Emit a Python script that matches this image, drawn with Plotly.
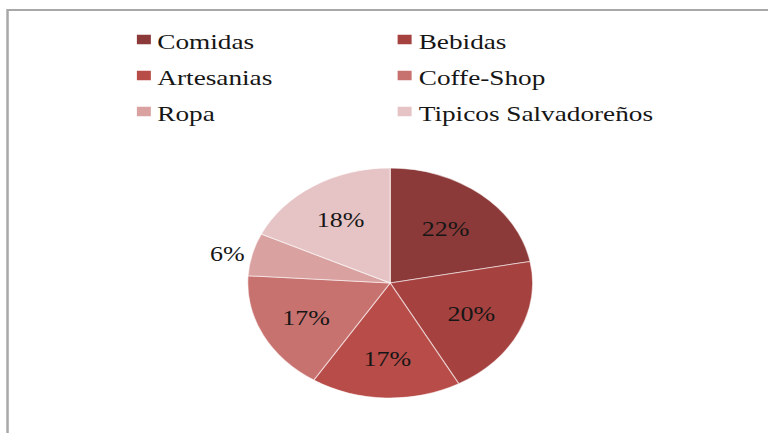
import plotly.graph_objects as go

categories = ["Comidas", "Bebidas", "Artesanias", "Coffe-Shop", "Ropa", "Tipicos Salvadoreños"]
values = [22, 20, 17, 17, 6, 18]
colors = ["#8c3a39", "#a5413f", "#b84c48", "#c87270", "#d9a1a0", "#e6c4c5"]
text_positions = ["inside", "inside", "inside", "inside", "outside", "inside"]

W, H = 620, 433
SX = 768 / W
FONT = "Liberation Serif"
TXT = "#161616"

fig = go.Figure(
    go.Pie(
        labels=categories,
        values=values,
        sort=False,
        direction="clockwise",
        rotation=0,
        marker=dict(colors=colors, line=dict(color="rgba(255,255,255,0.55)", width=1)),
        textinfo="percent",
        texttemplate="%{percent:.0%}",
        textposition=text_positions,
        insidetextorientation="horizontal",
        textfont=dict(family=FONT, size=21, color=TXT),
        domain=dict(x=[0.3226, 0.6935], y=[0.0808, 0.612]),
        hoverinfo="label+percent",
        showlegend=False,
    )
)

# frame
fig.add_shape(
    type="rect", xref="paper", yref="paper",
    x0=0.0098, x1=1.05, y0=-0.05, y1=0.977,
    line=dict(color="#a8a8a8", width=2), fillcolor="rgba(0,0,0,0)", layer="below",
)

# legend (two columns, three rows) laid out in pixel coordinates of the unstretched figure
col_text_x = [125.0, 335.5]
col_swatch_x = [110.5, 321.0]
row_text_y = [41.0, 77.0, 113.0]
sw_w, sw_h = 11.3, 9.5
for i, (name, col) in enumerate(zip(categories, colors)):
    r, c = divmod(i, 2)
    sx0 = col_swatch_x[c]
    sy = row_text_y[r] - 1.5
    fig.add_shape(
        type="rect", xref="paper", yref="paper",
        x0=sx0 / W, x1=(sx0 + sw_w) / W,
        y0=1 - (sy + sw_h / 2) / H, y1=1 - (sy - sw_h / 2) / H,
        line=dict(width=0), fillcolor=col,
    )
    fig.add_annotation(
        xref="paper", yref="paper",
        x=col_text_x[c] / W, y=1 - row_text_y[r] / H,
        xanchor="left", yanchor="middle",
        text=name, showarrow=False,
        font=dict(family=FONT, size=22, color=TXT),
    )

fig.update_layout(
    width=W, height=H,
    margin=dict(l=0, r=0, t=0, b=0),
    paper_bgcolor="white",
    plot_bgcolor="white",
    showlegend=False,
)

post = (
    "document.body.style.margin='0';"
    "var d=document.getElementById('{plot_id}');"
    "d.style.transformOrigin='0 0';"
    "d.style.transform='scaleX(" + str(round(SX, 4)) + ")';"
)
fig.write_html("out.html", post_script=post, config={"displayModeBar": False})
